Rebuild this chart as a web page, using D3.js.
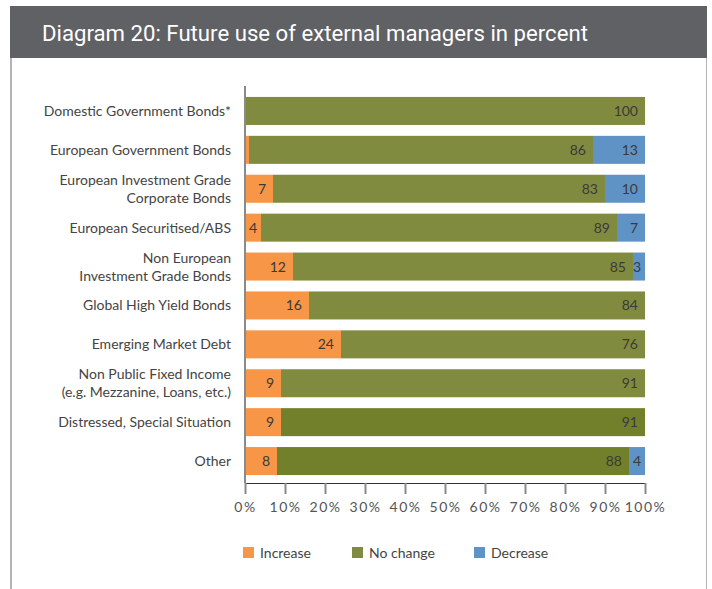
<!DOCTYPE html>
<html>
<head>
<meta charset="utf-8">
<script src="https://cdn.jsdelivr.net/npm/d3@7"></script>
<style>
	html, body { margin: 0; padding: 0; background: #fff; }
	svg { display: block; }
	text { font-family: Lato, "Liberation Sans", sans-serif; }
</style>
</head>
<body>
<svg id="chart" width="712" height="589"></svg>
<script>
// Data
var categories = [
	["Domestic Government Bonds*"],
	["European Government Bonds"],
	["European Investment Grade", "Corporate Bonds"],
	["European Securitised/ABS"],
	["Non European", "Investment Grade Bonds"],
	["Global High Yield Bonds"],
	["Emerging Market Debt"],
	["Non Public Fixed Income", "(e.g. Mezzanine, Loans, etc.)"],
	["Distressed, Special Situation"],
	["Other"]
];
var increase = [0, 1, 7, 4, 12, 16, 24, 9, 9, 8];
var noChange = [100, 86, 83, 89, 85, 84, 76, 91, 91, 88];
var decrease = [0, 13, 10, 7, 3, 0, 0, 0, 0, 4];
var seriesNames = ["Increase", "No change", "Decrease"];
var xTicks = [0, 10, 20, 30, 40, 50, 60, 70, 80, 90, 100];

var colors = {
	increase: "#f79646",
	noChange: "#818b3f",
	noChangeDark: "#72802c",
	decrease: "#5f93c6"
};

var svg = d3.select("#chart");

// Frame and title band
svg.append("line")
	.attr("x1", 11).attr("x2", 11)
	.attr("y1", 58).attr("y2", 589)
	.attr("stroke", "#b4b4b8")
	.attr("stroke-width", 2);

svg.append("line")
	.attr("x1", 706.5).attr("x2", 706.5)
	.attr("y1", 58).attr("y2", 589)
	.attr("stroke", "#b4b4b8")
	.attr("stroke-width", 1);

svg.append("rect")
	.attr("x", 10)
	.attr("y", 6)
	.attr("width", 697)
	.attr("height", 52)
	.attr("fill", "#606165");

svg.append("text")
	.attr("x", 42)
	.attr("y", 41)
	.attr("fill", "#ffffff")
	.attr("font-size", 22)
	.attr("textLength", 546)
	.attr("lengthAdjust", "spacingAndGlyphs")
	.style("font-family", "'Liberation Sans Narrow', Roboto, sans-serif")
	.text("Diagram 20: Future use of external managers in percent");

// Scales
var x = d3.scaleLinear().domain([0, 100]).range([245, 645]);
var y = d3.scaleBand()
	.domain(d3.range(categories.length))
	.range([91.5, 480.5])
	.paddingInner(0.28)
	.paddingOuter(0.14);

var rows = categories.map(function (c, i) {
	return { i: i, inc: increase[i], nc: noChange[i], dec: decrease[i] };
});

var stack = d3.stack().keys(["inc", "nc", "dec"]);
var layers = stack(rows);
var keyColor = { inc: colors.increase, nc: colors.noChange, dec: colors.decrease };

// Bars
var layerG = svg.append("g").selectAll("g")
	.data(layers)
	.join("g");

layerG.selectAll("rect")
	.data(function (d) { return d.map(function (p) { return { key: d.key, p: p }; }); })
	.join("rect")
	.attr("x", function (d) { return x(d.p[0]); })
	.attr("y", function (d) { return y(d.p.data.i); })
	.attr("width", function (d) { return x(d.p[1]) - x(d.p[0]); })
	.attr("height", y.bandwidth())
	.attr("fill", function (d) {
		if (d.key == "nc" && d.p.data.i >= 8) return colors.noChangeDark;
		return keyColor[d.key];
	});

// Value labels
layerG.selectAll("text")
	.data(function (d) {
		return d.filter(function (p) { return p[1] - p[0] >= 3; })
			.map(function (p) { return { key: d.key, p: p }; });
	})
	.join("text")
	.attr("x", function (d) {
		var w = x(d.p[1]) - x(d.p[0]);
		return x(d.p[1]) - (w < 20 ? 4 : 7);
	})
	.attr("y", function (d) { return y(d.p.data.i) + y.bandwidth() / 2 + 5; })
	.attr("text-anchor", "end")
	.attr("font-size", 14)
	.attr("fill", "#3a3a3a")
	.text(function (d) { return Math.round(d.p[1] - d.p[0]); });

// Vertical axis line
svg.append("line")
	.attr("x1", 245).attr("x2", 245)
	.attr("y1", 86).attr("y2", 483)
	.attr("stroke", "#8a8a8a")
	.attr("stroke-width", 2);

// Category labels
var catG = svg.append("g").selectAll("text")
	.data(categories)
	.join("text")
	.attr("text-anchor", "end")
	.attr("font-size", 14)
	.attr("fill", "#444");

catG.each(function (lines, i) {
	var t = d3.select(this),
		cy = y(i) + y.bandwidth() / 2,
		lh = 18,
		y0 = cy - (lines.length - 1) * lh / 2 + 5;
	lines.forEach(function (s, j) {
		t.append("tspan")
			.attr("x", 231)
			.attr("y", y0 + j * lh)
			.text(s);
	});
});

// X axis
var axis = d3.axisBottom(x)
	.tickValues(xTicks)
	.tickSize(11)
	.tickPadding(8)
	.tickFormat(function (d) { return d + "%"; });

var axisG = svg.append("g")
	.attr("transform", "translate(0,483)")
	.call(axis);

axisG.select(".domain")
	.attr("stroke", "#333")
	.attr("stroke-width", 1.2)
	.attr("d", "M245,0.5H645");
axisG.selectAll(".tick line")
	.attr("stroke", "#8a8a8a")
	.attr("stroke-width", 2);
axisG.selectAll(".tick text")
	.attr("fill", "#555")
	.attr("font-size", 14)
	.attr("font-family", null)
	.style("letter-spacing", "1.5px");

// Legend
var legendX = [243, 352, 474];
var legendColors = [colors.increase, colors.noChange, colors.decrease];
var legend = svg.append("g").selectAll("g")
	.data(seriesNames)
	.join("g")
	.attr("transform", function (d, i) { return "translate(" + legendX[i] + ",547)"; });

legend.append("rect")
	.attr("width", 11)
	.attr("height", 11)
	.attr("fill", function (d, i) { return legendColors[i]; });

legend.append("text")
	.attr("x", 17)
	.attr("y", 10.5)
	.attr("font-size", 14)
	.attr("fill", "#444")
	.text(function (d) { return d; });
</script>
</body>
</html>
